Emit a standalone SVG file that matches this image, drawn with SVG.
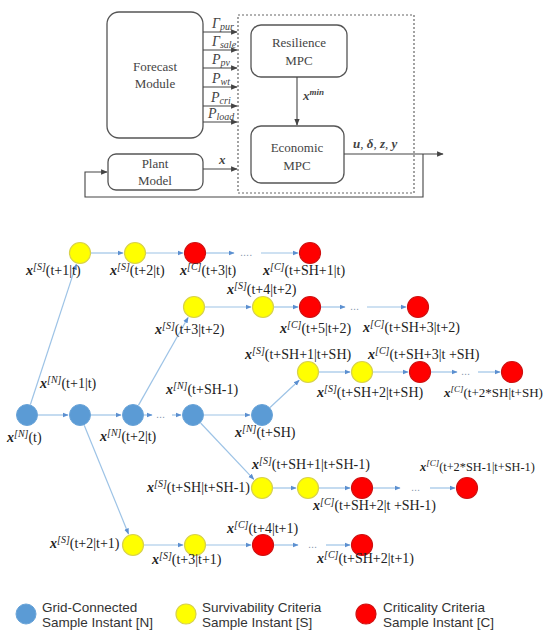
<svg xmlns="http://www.w3.org/2000/svg" width="547" height="630" viewBox="0 0 547 630">
<style>
.box{fill:#fff;stroke:#555;stroke-width:1.3}
.ln{stroke:#444;stroke-width:1.1;fill:none}
.t{font-family:"Liberation Serif","Times New Roman",serif;font-size:13px;fill:#444}
.fl{font-family:"Liberation Serif","Times New Roman",serif;font-size:14px;fill:#444;font-style:italic}
.fs{font-size:10px}
.lb{font-family:"Liberation Serif","Times New Roman",serif;font-size:14px;fill:#222}
.lbs{font-size:12.3px}
.lbm{font-size:13px}
.bx{font-weight:bold;font-style:italic}
.it{font-style:italic}
.sp{font-size:10px;font-style:italic}
.sps{font-size:9px}
.e{stroke:#9dc3e6;stroke-width:1.2;fill:none}
.dots{font-family:"Liberation Sans",Arial,sans-serif;font-size:11px;fill:#8a9ab0}
.N{fill:#5b9bd5;stroke:#6aa4d8;stroke-width:1}
.S{fill:#ffff00;stroke:#d8d24a;stroke-width:1.2}
.C{fill:#ff0000;stroke:#d01010;stroke-width:1.2}
.lg{font-family:"Liberation Sans",Arial,sans-serif;font-size:13.5px;fill:#333}
</style>
<defs>
<marker id="ah" viewBox="0 0 10 10" refX="9" refY="5" markerWidth="6" markerHeight="6" orient="auto"><path d="M0,1 L10,5 L0,9 z" fill="#444"/></marker>
<marker id="ab" viewBox="0 0 10 10" refX="9" refY="5" markerWidth="5" markerHeight="5" orient="auto"><path d="M0,1 L10,5 L0,9 z" fill="#5b8fd0"/></marker>
</defs>
<rect width="547" height="630" fill="#fff"/>

<!-- Top block diagram -->
<g id="dashed-region"><rect x="238" y="15" width="176" height="178" fill="none" stroke="#666" stroke-width="1.2" stroke-dasharray="2,2"/></g>
<g id="forecast"><rect class="box" x="107" y="12" width="96" height="126" rx="12"/>
<text class="t" x="155" y="71" text-anchor="middle">Forecast</text>
<text class="t" x="155" y="88" text-anchor="middle">Module</text></g>
<g id="plant"><rect class="box" x="108" y="154" width="95" height="36" rx="8"/>
<text class="t" x="155" y="168" text-anchor="middle">Plant</text>
<text class="t" x="155" y="185" text-anchor="middle">Model</text></g>
<g id="resilience"><rect class="box" x="251" y="25" width="96" height="52" rx="10"/>
<text class="t" x="299" y="47" text-anchor="middle">Resilience</text>
<text class="t" x="299" y="65" text-anchor="middle">MPC</text></g>
<g id="economic"><rect class="box" x="251" y="126" width="93" height="57" rx="10"/>
<text class="t" x="297" y="152" text-anchor="middle">Economic</text>
<text class="t" x="297" y="170" text-anchor="middle">MPC</text></g>

<g id="top-connectors">
<line class="ln" x1="203" y1="32" x2="237" y2="32" marker-end="url(#ah)"/>
<line class="ln" x1="203" y1="50" x2="237" y2="50" marker-end="url(#ah)"/>
<line class="ln" x1="203" y1="68" x2="237" y2="68" marker-end="url(#ah)"/>
<line class="ln" x1="203" y1="87" x2="237" y2="87" marker-end="url(#ah)"/>
<line class="ln" x1="203" y1="106" x2="237" y2="106" marker-end="url(#ah)"/>
<line class="ln" x1="203" y1="122" x2="237" y2="122" marker-end="url(#ah)"/>
<line class="ln" x1="203" y1="169" x2="237" y2="169" marker-end="url(#ah)"/>
<line class="ln" x1="297" y1="77" x2="297" y2="125" marker-end="url(#ah)"/>
<line class="ln" x1="344" y1="154" x2="443" y2="154" marker-end="url(#ah)"/>
<polyline class="ln" points="423,154 423,197 85,197 85,172 107,172" marker-end="url(#ah)"/>
<text class="fl" x="212" y="28">Γ<tspan class="fs" dy="2">pur</tspan></text>
<text class="fl" x="212" y="46">Γ<tspan class="fs" dy="2">sale</tspan></text>
<text class="fl" x="212" y="64">P<tspan class="fs" dy="2">pv</tspan></text>
<text class="fl" x="212" y="83">P<tspan class="fs" dy="2">wt</tspan></text>
<text class="fl" x="211" y="102">P<tspan class="fs" dy="2">cri</tspan></text>
<text class="fl" x="208" y="118">P<tspan class="fs" dy="2">load</tspan></text>
<text class="t" x="219" y="164"><tspan class="bx">x</tspan></text>
<text class="t" x="303" y="100"><tspan class="bx">x</tspan><tspan class="bx" font-size="9" dy="-5">min</tspan></text>
<text class="t" x="353" y="148"><tspan class="bx">u</tspan>, <tspan class="bx">δ</tspan>, <tspan class="bx">z</tspan>, <tspan class="bx">y</tspan></text>
</g>

<!-- Tree connectors -->
<g id="connectors">
<line class="e" x1="30.4" y1="404.5" x2="76.3" y2="264.4" marker-end="url(#ab)"/>
<line class="e" x1="138.4" y1="405.4" x2="188.1" y2="317.5" marker-end="url(#ab)"/>
<line class="e" x1="84.2" y1="425.2" x2="128.5" y2="533.9" marker-end="url(#ab)"/>
<line class="e" x1="200.6" y1="423" x2="253.8" y2="479.3" marker-end="url(#ab)"/>
<line class="e" x1="270" y1="407.5" x2="299.2" y2="380.2" marker-end="url(#ab)"/>
<line class="e" x1="91" y1="253" x2="123" y2="253" marker-end="url(#ab)"/>
<line class="e" x1="146" y1="253" x2="183" y2="253" marker-end="url(#ab)"/>
<line class="e" x1="206" y1="253" x2="234" y2="253" marker-end="url(#ab)"/>
<line class="e" x1="261" y1="253" x2="298" y2="253" marker-end="url(#ab)"/>
<line class="e" x1="205" y1="307" x2="251" y2="307" marker-end="url(#ab)"/>
<line class="e" x1="274" y1="307" x2="298" y2="307" marker-end="url(#ab)"/>
<line class="e" x1="321" y1="307" x2="345" y2="307" marker-end="url(#ab)"/>
<line class="e" x1="367" y1="307" x2="406" y2="307" marker-end="url(#ab)"/>
<line class="e" x1="38" y1="415" x2="68" y2="415" marker-end="url(#ab)"/>
<line class="e" x1="91" y1="415" x2="121" y2="415" marker-end="url(#ab)"/>
<line class="e" x1="144" y1="415" x2="152" y2="415" marker-end="url(#ab)"/>
<line class="e" x1="172" y1="415" x2="181" y2="415" marker-end="url(#ab)"/>
<line class="e" x1="204" y1="415" x2="250" y2="415" marker-end="url(#ab)"/>
<line class="e" x1="319" y1="372" x2="350" y2="372" marker-end="url(#ab)"/>
<line class="e" x1="373" y1="372" x2="408" y2="372" marker-end="url(#ab)"/>
<line class="e" x1="431" y1="372" x2="457" y2="372" marker-end="url(#ab)"/>
<line class="e" x1="478" y1="372" x2="500" y2="372" marker-end="url(#ab)"/>
<line class="e" x1="273" y1="488" x2="296" y2="488" marker-end="url(#ab)"/>
<line class="e" x1="319" y1="488" x2="350" y2="488" marker-end="url(#ab)"/>
<line class="e" x1="373" y1="488" x2="400" y2="488" marker-end="url(#ab)"/>
<line class="e" x1="430" y1="488" x2="455" y2="488" marker-end="url(#ab)"/>
<line class="e" x1="144" y1="545" x2="183" y2="545" marker-end="url(#ab)"/>
<line class="e" x1="206" y1="545" x2="251" y2="545" marker-end="url(#ab)"/>
<line class="e" x1="274" y1="545" x2="298" y2="545" marker-end="url(#ab)"/>
<line class="e" x1="326" y1="545" x2="350" y2="545" marker-end="url(#ab)"/>
<text class="dots" x="240" y="256">....</text>
<text class="dots" x="350" y="310">...</text>
<text class="dots" x="156" y="418">...</text>
<text class="dots" x="461" y="375">...</text>
<text class="dots" x="411" y="491">...</text>
<text class="dots" x="308" y="548">...</text>
</g>

<!-- Tree nodes -->
<g id="nA1"><circle class="S" cx="80" cy="253" r="10.5"/><text class="lb" x="26" y="275"><tspan class="bx">x</tspan><tspan class="sp" dy="-5">[S]</tspan><tspan dy="5">(t+1|t)</tspan></text></g>
<g id="nA2"><circle class="S" cx="135" cy="253" r="10.5"/><text class="lb" x="110" y="275"><tspan class="bx">x</tspan><tspan class="sp" dy="-5">[S]</tspan><tspan dy="5">(t+2|t)</tspan></text></g>
<g id="nA3"><circle class="C" cx="195" cy="253" r="10.5"/><text class="lb" x="180" y="275"><tspan class="bx">x</tspan><tspan class="sp" dy="-5">[C]</tspan><tspan dy="5">(t+3|t)</tspan></text></g>
<g id="nA4"><circle class="C" cx="310" cy="253" r="10.5"/><text class="lb" x="263" y="275"><tspan class="bx">x</tspan><tspan class="sp" dy="-5">[C]</tspan><tspan dy="5">(t+SH+1|t)</tspan></text></g>

<g id="nB1"><circle class="S" cx="194" cy="307" r="10.5"/><text class="lb" x="155" y="334"><tspan class="bx">x</tspan><tspan class="sp" dy="-5">[S]</tspan><tspan dy="5">(t+3|t+2)</tspan></text></g>
<g id="nB2"><circle class="S" cx="263" cy="307" r="10.5"/><text class="lb" x="227" y="294"><tspan class="bx">x</tspan><tspan class="sp" dy="-5">[S]</tspan><tspan dy="5">(t+4|t+2)</tspan></text></g>
<g id="nB3"><circle class="C" cx="310" cy="307" r="10.5"/><text class="lb" x="280" y="333"><tspan class="bx">x</tspan><tspan class="sp" dy="-5">[C]</tspan><tspan dy="5">(t+5|t+2)</tspan></text></g>
<g id="nB4"><circle class="C" cx="418" cy="307" r="10.5"/><text class="lb" x="363" y="332"><tspan class="bx">x</tspan><tspan class="sp" dy="-5">[C]</tspan><tspan dy="5">(t+SH+3|t+2)</tspan></text></g>

<g id="nN1"><circle class="N" cx="27" cy="415" r="10.5"/><text class="lb" x="7" y="442"><tspan class="bx">x</tspan><tspan class="sp" dy="-5">[N]</tspan><tspan dy="5">(t)</tspan></text></g>
<g id="nN2"><circle class="N" cx="80" cy="415" r="10.5"/><text class="lb" x="40" y="388"><tspan class="bx">x</tspan><tspan class="sp" dy="-5">[N]</tspan><tspan dy="5">(t+1|t)</tspan></text></g>
<g id="nN3"><circle class="N" cx="133" cy="415" r="10.5"/><text class="lb" x="100" y="441"><tspan class="bx">x</tspan><tspan class="sp" dy="-5">[N]</tspan><tspan dy="5">(t+2|t)</tspan></text></g>
<g id="nN4"><circle class="N" cx="193" cy="415" r="10.5"/><text class="lb" x="166" y="394"><tspan class="bx">x</tspan><tspan class="sp" dy="-5">[N]</tspan><tspan dy="5">(t+SH-1)</tspan></text></g>
<g id="nN5"><circle class="N" cx="262" cy="415" r="10.5"/><text class="lb" x="235" y="437"><tspan class="bx">x</tspan><tspan class="sp" dy="-5">[N]</tspan><tspan dy="5">(t+SH)</tspan></text></g>

<g id="nD1"><circle class="S" cx="308" cy="372" r="10.5"/><text class="lb" x="245" y="359"><tspan class="bx">x</tspan><tspan class="sp" dy="-5">[S]</tspan><tspan dy="5">(t+SH+1|t+SH)</tspan></text></g>
<g id="nD2"><circle class="S" cx="362" cy="372" r="10.5"/><text class="lb" x="317" y="397"><tspan class="bx">x</tspan><tspan class="sp" dy="-5">[S]</tspan><tspan dy="5">(t+SH+2|t+SH)</tspan></text></g>
<g id="nD3"><circle class="C" cx="420" cy="372" r="10.5"/><text class="lb" x="368" y="359"><tspan class="bx">x</tspan><tspan class="sp" dy="-5">[C]</tspan><tspan dy="5">(t+SH+3|t +SH)</tspan></text></g>
<g id="nD4"><circle class="C" cx="512" cy="372" r="10.5"/><text class="lb lbm" x="444" y="397"><tspan class="bx">x</tspan><tspan class="sp sps" dy="-5">[C]</tspan><tspan dy="5">(t+2*SH|t+SH)</tspan></text></g>

<g id="nE1"><circle class="S" cx="262" cy="488" r="10.5"/><text class="lb" x="147" y="492"><tspan class="bx">x</tspan><tspan class="sp" dy="-5">[S]</tspan><tspan dy="5">(t+SH|t+SH-1)</tspan></text></g>
<g id="nE2"><circle class="S" cx="308" cy="488" r="10.5"/><text class="lb" x="252" y="469"><tspan class="bx">x</tspan><tspan class="sp" dy="-5">[S]</tspan><tspan dy="5">(t+SH+1|t+SH-1)</tspan></text></g>
<g id="nE3"><circle class="C" cx="362" cy="488" r="10.5"/><text class="lb" x="313" y="510"><tspan class="bx">x</tspan><tspan class="sp" dy="-5">[C]</tspan><tspan dy="5">(t+SH+2|t +SH-1)</tspan></text></g>
<g id="nE4"><circle class="C" cx="467" cy="488" r="10.5"/><text class="lb lbs" x="420" y="471"><tspan class="bx">x</tspan><tspan class="sp sps" dy="-5">[C]</tspan><tspan dy="5">(t+2*SH-1|t+SH-1)</tspan></text></g>

<g id="nF1"><circle class="S" cx="133" cy="545" r="10.5"/><text class="lb" x="50" y="548"><tspan class="bx">x</tspan><tspan class="sp" dy="-5">[S]</tspan><tspan dy="5">(t+2|t+1)</tspan></text></g>
<g id="nF2"><circle class="S" cx="195" cy="545" r="10.5"/><text class="lb" x="152" y="564"><tspan class="bx">x</tspan><tspan class="sp" dy="-5">[S]</tspan><tspan dy="5">(t+3|t+1)</tspan></text></g>
<g id="nF3"><circle class="C" cx="263" cy="545" r="10.5"/><text class="lb" x="227" y="533"><tspan class="bx">x</tspan><tspan class="sp" dy="-5">[C]</tspan><tspan dy="5">(t+4|t+1)</tspan></text></g>
<g id="nF4"><circle class="C" cx="362" cy="545" r="10.5"/><text class="lb" x="317" y="563"><tspan class="bx">x</tspan><tspan class="sp" dy="-5">[C]</tspan><tspan dy="5">(t+SH+2|t+1)</tspan></text></g>

<!-- Legend -->
<g id="legend-N"><circle class="N" cx="26" cy="614" r="10"/><text class="lg" x="42" y="612">Grid-Connected</text><text class="lg" x="42" y="627">Sample Instant [N]</text></g>
<g id="legend-S"><circle class="S" cx="186" cy="614" r="10"/><text class="lg" x="202" y="612">Survivability Criteria</text><text class="lg" x="202" y="627">Sample Instant [S]</text></g>
<g id="legend-C"><circle class="C" cx="366" cy="614" r="10"/><text class="lg" x="383" y="612">Criticality Criteria</text><text class="lg" x="383" y="627">Sample Instant [C]</text></g>
</svg>
